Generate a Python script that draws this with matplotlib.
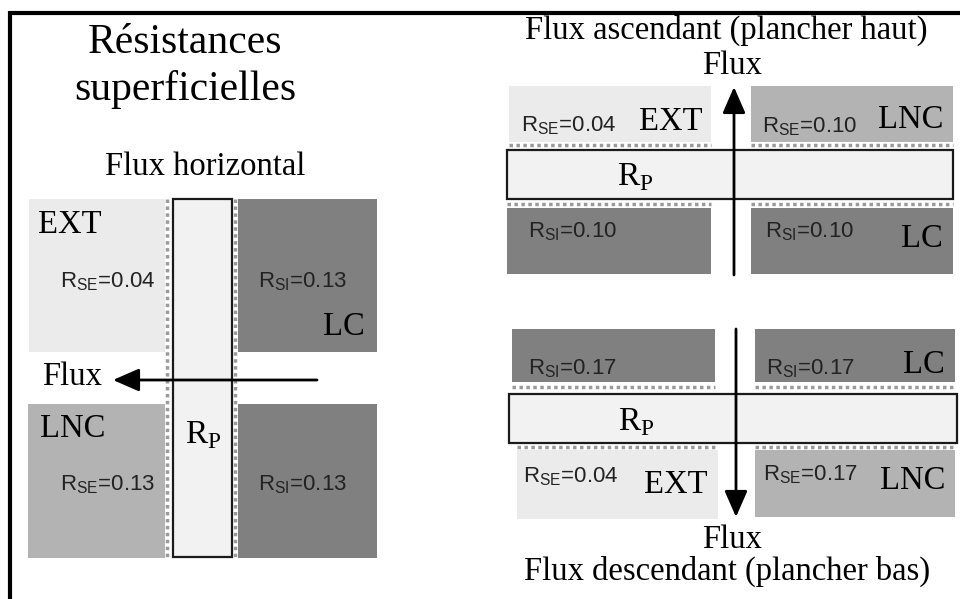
import matplotlib
matplotlib.use('Agg')
import matplotlib.pyplot as plt
from matplotlib.patches import Rectangle

plt.rcParams['mathtext.fontset'] = 'custom'
plt.rcParams['mathtext.rm'] = 'Liberation Serif'
plt.rcParams['mathtext.sf'] = 'Liberation Sans'

SERIF = 'Liberation Serif'
SANS = 'Liberation Sans'

# colours of the zones
C_EXT = '#ebebeb'
C_LNC = '#b3b3b3'
C_LC = '#808080'
C_WALL = '#f2f2f2'

# resistance values (m2.K/W)
horiz_rse = ['0.04', '0.13']
horiz_rsi = ['0.13', '0.13']
up_rse = ['0.04', '0.10']
up_rsi = ['0.10', '0.10']
down_rsi = ['0.17', '0.17']
down_rse = ['0.04', '0.17']

titles = ['Résistances', 'superficielles', 'Flux horizontal',
          'Flux ascendant (plancher haut)', 'Flux descendant (plancher bas)']


def box(ax, x0, y0, x1, y1, color, edge=None):
    ax.add_patch(Rectangle((x0, y0), x1 - x0, y1 - y0, facecolor=color,
                           edgecolor=edge if edge else 'none',
                           linewidth=1.6 if edge else 0))


def dots(ax, xs, ys):
    ax.plot(xs, ys, color='#9a9a9a', linewidth=2.5, linestyle=(0, (1, 1)),
            solid_capstyle='butt')


def arrow(ax, tail, tip):
    ax.annotate('', xy=tip, xytext=tail,
                arrowprops=dict(arrowstyle='-|>,head_length=0.8,head_width=0.35',
                                color='black', lw=2, mutation_scale=20,
                                shrinkA=0, shrinkB=0))


def serif(ax, x, y, s, ha='left', size=23.5):
    ax.text(x, y, s, family=SERIF, fontsize=size, ha=ha, va='baseline')


def rlabel(ax, x, y, sub, val):
    ax.text(x, y, 'R$_{\\mathsf{' + sub + '}}$=' + val, family=SANS,
            fontsize=16, ha='left', va='baseline', color='#222222')


def rp(ax, x, y):
    ax.text(x, y, 'R$_{\\mathrm{P}}$', family=SERIF, fontsize=24,
            ha='left', va='baseline')


fig = plt.figure(figsize=(9.6, 5.99), dpi=100)
ax = fig.add_axes([0, 0, 1, 1])
ax.set_xlim(0, 960)
ax.set_ylim(599, 0)
ax.axis('off')

# frame
ax.plot([9.5, 960], [12.5, 12.5], color='black', lw=3, solid_capstyle='butt')
ax.plot([9.5, 9.5], [11, 599], color='black', lw=3, solid_capstyle='butt')

# ---- left panel : horizontal flux
serif(ax, 185, 53, titles[0], ha='center', size=30)
serif(ax, 185, 100, titles[1], ha='center', size=30)
serif(ax, 205, 175, titles[2], ha='center')

box(ax, 29, 199, 165, 352, C_EXT)
box(ax, 238, 199, 377, 352, C_LC)
box(ax, 28, 404, 165, 558, C_LNC)
box(ax, 238, 404, 377, 558, C_LC)
dots(ax, [167, 167], [199, 558])
dots(ax, [235, 235], [199, 558])
box(ax, 173, 199, 232, 557, C_WALL, edge='#1a1a1a')
arrow(ax, (317, 380), (113, 380))

serif(ax, 38, 233, 'EXT')
rlabel(ax, 60, 287, 'SE', horiz_rse[0])
rlabel(ax, 258, 287, 'SI', horiz_rsi[0])
serif(ax, 365, 335, 'LC', ha='right')
serif(ax, 42, 385, 'Flux')
serif(ax, 40, 437, 'LNC')
rp(ax, 185, 443)
rlabel(ax, 60, 490, 'SE', horiz_rse[1])
rlabel(ax, 258, 490, 'SI', horiz_rsi[1])

# ---- right top : upward flux
serif(ax, 726, 39, titles[3], ha='center')
serif(ax, 732, 74, 'Flux', ha='center')
box(ax, 509, 86, 711, 142, C_EXT)
box(ax, 751, 86, 953, 142, C_LNC)
box(ax, 507, 208, 711, 274, C_LC)
box(ax, 751, 208, 953, 274, C_LC)
dots(ax, [509, 711], [145, 145])
dots(ax, [751, 953], [145, 145])
dots(ax, [507, 711], [204, 204])
dots(ax, [751, 953], [204, 204])
box(ax, 507, 150, 953, 199, C_WALL, edge='#1a1a1a')
arrow(ax, (734, 275), (734, 87))

rlabel(ax, 521, 131, 'SE', up_rse[0])
serif(ax, 639, 130, 'EXT')
rlabel(ax, 762, 132, 'SE', up_rse[1])
serif(ax, 943, 128, 'LNC', ha='right')
rp(ax, 617, 185)
rlabel(ax, 528, 237, 'SI', up_rsi[0])
rlabel(ax, 765, 237, 'SI', up_rsi[1])
serif(ax, 943, 247, 'LC', ha='right')

# ---- right bottom : downward flux
box(ax, 512, 329, 715, 382, C_LC)
box(ax, 755, 329, 955, 382, C_LC)
box(ax, 517, 450, 718, 519, C_EXT)
box(ax, 755, 450, 955, 517, C_LNC)
dots(ax, [512, 715], [387, 387])
dots(ax, [755, 955], [387, 387])
dots(ax, [517, 718], [447, 447])
dots(ax, [755, 955], [447, 447])
box(ax, 509, 394, 957, 443, C_WALL, edge='#1a1a1a')
arrow(ax, (736, 329), (736, 517))

rlabel(ax, 528, 374, 'SI', down_rsi[0])
rlabel(ax, 766, 374, 'SI', down_rsi[1])
serif(ax, 945, 373, 'LC', ha='right')
rp(ax, 618, 430)
rlabel(ax, 523, 482, 'SE', down_rse[0])
serif(ax, 644, 493, 'EXT')
rlabel(ax, 763, 480, 'SE', down_rse[1])
serif(ax, 945, 489, 'LNC', ha='right')
serif(ax, 732, 548, 'Flux', ha='center')
serif(ax, 727, 580, titles[4], ha='center')

fig.savefig('out.png', dpi=100)
